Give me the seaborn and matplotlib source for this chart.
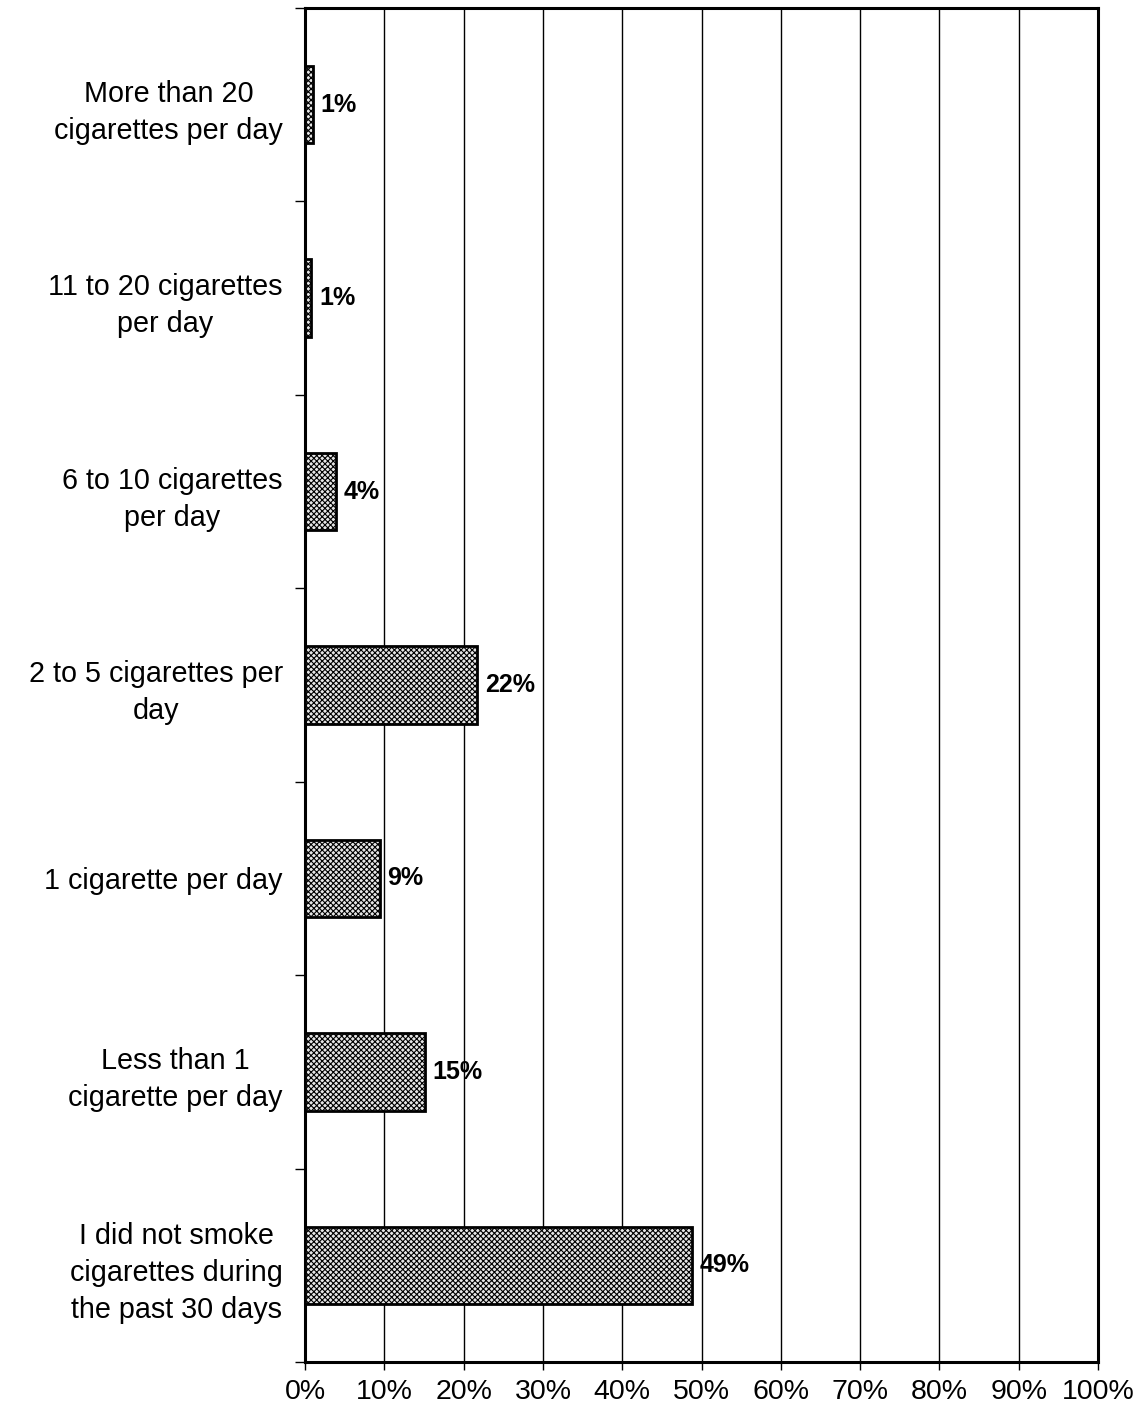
import matplotlib
matplotlib.use("Agg")
import matplotlib.pyplot as plt
import seaborn as sns
import pandas as pd
import numpy as np

categories = [
    "More than 20\ncigarettes per day",
    "11 to 20 cigarettes\nper day",
    "6 to 10 cigarettes\nper day",
    "2 to 5 cigarettes per\nday",
    "1 cigarette per day",
    "Less than 1\ncigarette per day",
    "I did not smoke\ncigarettes during\nthe past 30 days",
]
values = [1.0, 0.8, 3.9, 21.7, 9.4, 15.1, 48.8]
value_labels = ["1%", "1%", "4%", "22%", "9%", "15%", "49%"]
xticks = [0, 10, 20, 30, 40, 50, 60, 70, 80, 90, 100]
xtick_labels = [f"{t}%" for t in xticks]

sns.set_theme(style="white")
plt.rcParams["font.family"] = ["Liberation Sans", "DejaVu Sans"]
plt.rcParams["hatch.color"] = "#7a7a7a"
plt.rcParams["hatch.linewidth"] = 0.8
plt.rcParams["text.color"] = "black"
plt.rcParams["xtick.color"] = "black"
plt.rcParams["ytick.color"] = "black"

df = pd.DataFrame({"cat": categories, "val": values})

fig = plt.figure(figsize=(11.42, 14.12), dpi=100)
ax = fig.add_axes([305/1142, 1-1362/1412, (1098-305)/1142, (1362-8)/1412])

sns.barplot(data=df, x="val", y="cat", orient="h", order=categories,
            color="#e6e6e6", width=0.4, edgecolor="black", linewidth=2,
            saturation=1, ax=ax, zorder=3)
for p in ax.patches:
    p.set_hatch("xxxxxx")
    p.set_zorder(3)

ax.set_xlim(0, 100)
ax.set_ylim(len(categories) - 0.5, -0.5)
ax.set_xticks(xticks)
ax.set_xticklabels(xtick_labels, fontsize=20.5, color="black")
ax.set_xlabel("")
ax.set_ylabel("")
ax.set_yticks(range(len(categories)))
ax.set_yticklabels(categories, fontsize=20.7, multialignment="center",
                   linespacing=1.42, color="black")
ax.set_yticks(np.arange(-0.5, len(categories) + 0.5, 1), minor=True)
ax.tick_params(axis="y", which="major", length=0, pad=16)
ax.tick_params(axis="y", which="minor", length=7, width=1, direction="out", color="black", left=True)
ax.tick_params(axis="x", which="major", length=6, width=1, direction="out", color="black",
               bottom=True, pad=6)

ax.grid(axis="x", color="black", linewidth=1, zorder=0)
ax.grid(axis="y", visible=False)
ax.set_axisbelow(True)

for s in ax.spines.values():
    s.set_visible(True)
    s.set_color("black")
    s.set_linewidth(2.2)

for i, (v, lab) in enumerate(zip(values, value_labels)):
    ax.text(v + 1.0, i, lab, va="center", ha="left", fontsize=18, fontweight="bold", color="black")

fig.savefig("out.png", dpi=100, facecolor="white")
